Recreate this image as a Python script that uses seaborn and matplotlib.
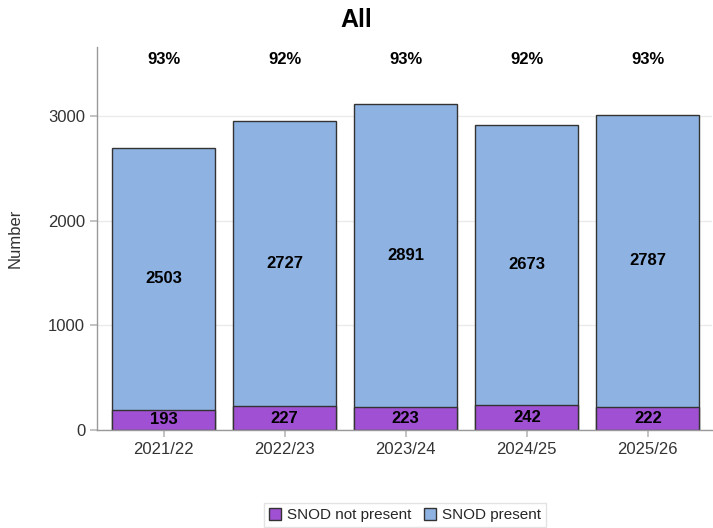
import matplotlib
matplotlib.use("Agg")
import matplotlib.pyplot as plt
import seaborn as sns
import pandas as pd
from matplotlib.patches import Patch

years = ["2021/22", "2022/23", "2023/24", "2024/25", "2025/26"]
not_present = [193, 227, 223, 242, 222]
present = [2503, 2727, 2891, 2673, 2787]

purple = "#A050D2"
blue = "#8EB2E2"

sns.set_theme(style="white")
plt.rcParams['font.family'] = ['Liberation Sans', 'DejaVu Sans']

df = pd.DataFrame({"year": years, "not_present": not_present, "present": present})
df["total"] = df["not_present"] + df["present"]

fig = plt.figure(figsize=(7.13, 5.28), dpi=100)
ax = fig.add_axes([97 / 713, (528 - 430) / 528, (712 - 97) / 713, (430 - 47) / 528])

## stacked: draw totals first then the bottom segment on top
sns.barplot(data=df, x="year", y="total", color=blue, saturation=1, width=0.85,
            edgecolor="#333333", linewidth=1, ax=ax)
sns.barplot(data=df, x="year", y="not_present", color=purple, saturation=1, width=0.85,
            edgecolor="#333333", linewidth=1, ax=ax)

for i, row in df.iterrows():
    ax.text(i, row["not_present"] / 2, str(row["not_present"]), ha="center", va="center",
            fontsize=12, fontweight="bold", color="black")
    ax.text(i, row["not_present"] + row["present"] / 2, str(row["present"]), ha="center",
            va="center", fontsize=12, fontweight="bold", color="black")
    pct = round(100 * row["present"] / row["total"])
    ax.text(i, 3540, f"{pct}%", ha="center", va="center", fontsize=12,
            fontweight="bold", color="black")

ax.set_ylim(0, 3660)
ax.set_xlim(-0.55, 4.53)
ax.set_yticks([0, 1000, 2000, 3000])
ax.yaxis.grid(True, color="#EBEBEB", linewidth=1)
ax.set_axisbelow(True)
ax.tick_params(axis="both", which="both", length=5, color="#BBBBBB", labelsize=12,
               labelcolor="#333333", left=True, bottom=True)
ax.set_xlabel("")
ax.set_ylabel("Number", fontsize=12, color="#333333", labelpad=18)

for side in ["top", "right"]:
    ax.spines[side].set_visible(False)
for side in ["left", "bottom"]:
    ax.spines[side].set_color("#999999")
    ax.spines[side].set_linewidth(1)

fig.text(0.5, 1 - 20 / 528, "All", ha="center", va="center", fontsize=18,
         fontweight="bold", color="black")

handles = [Patch(facecolor=purple, edgecolor="#333333", label="SNOD not present"),
           Patch(facecolor=blue, edgecolor="#333333", label="SNOD present")]
fig.legend(handles=handles, loc="center", bbox_to_anchor=(405 / 713, 1 - 515 / 528), ncol=2,
           frameon=True, fontsize=11, handlelength=0.8, handleheight=0.8, handletextpad=0.4,
           columnspacing=0.8, borderpad=0.3, fancybox=False, edgecolor="#DDDDDD")

fig.savefig("out.png", dpi=100)
